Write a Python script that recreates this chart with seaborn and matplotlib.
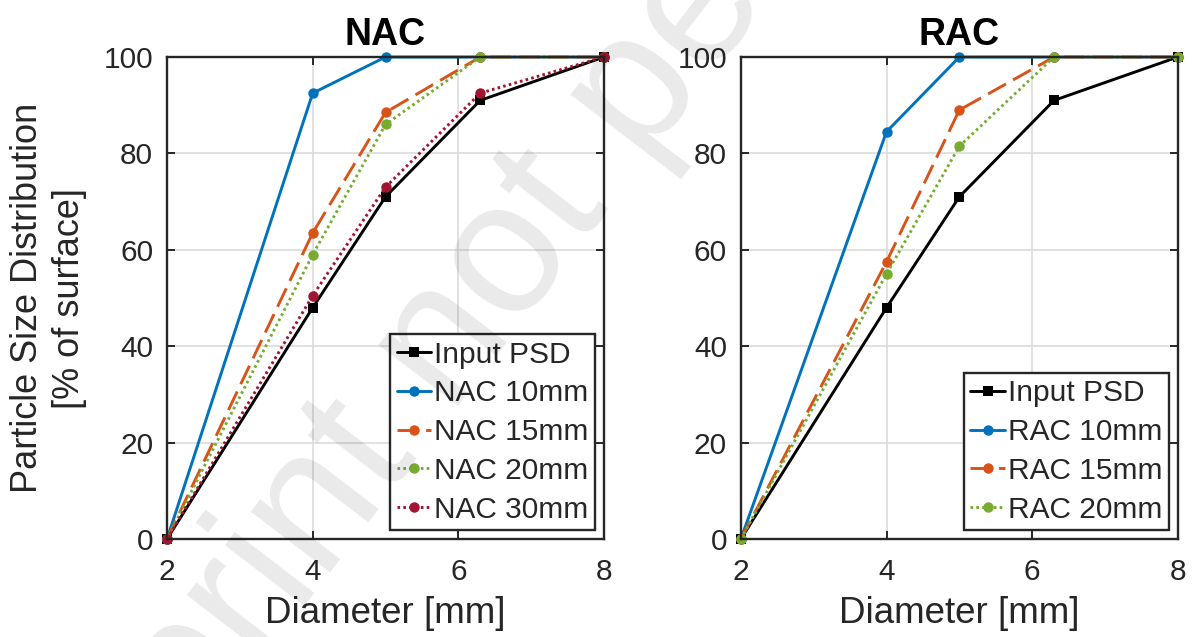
import matplotlib
matplotlib.use("Agg")
import matplotlib.pyplot as plt
import seaborn as sns

# Sieve diameters [mm]
diameter = [2, 4, 5, 6.3, 8]

# Cumulative particle size distribution [% of surface]
input_psd = [0, 48, 71, 91, 100]

nac_10 = [0, 92.5, 100, 100, 100]
nac_15 = [0, 63.5, 88.5, 100, 100]
nac_20 = [0, 59, 86, 100, 100]
nac_30 = [0, 50.5, 73, 92.5, 100]

rac_10 = [0, 84.5, 100, 100, 100]
rac_15 = [0, 57.5, 89, 100, 100]
rac_20 = [0, 55, 81.5, 100, 100]

x_ticks = [2, 4, 6, 8]
y_ticks = [0, 20, 40, 60, 80, 100]

sns.set_theme(style="whitegrid")
plt.rcParams["font.family"] = ["Liberation Sans", "DejaVu Sans"]

BLUE = "#0072BD"
ORANGE = "#D95319"
GREEN = "#77AC30"
RED = "#A2142F"
LW = 2.1
SOLID = "-"
DASHED = (0, (7, 2.8))
DOTTED = (0, (0.9, 1.1))

fig = plt.figure(figsize=(11.93, 6.37), dpi=100)
ax_n = fig.add_axes([0.140, 0.1538, 0.3663, 0.7567])
ax_r = fig.add_axes([0.621, 0.1538, 0.3663, 0.7567])

nac_series = [
    ("Input PSD", input_psd, "black", SOLID, "s", 6.5),
    ("NAC 10mm", nac_10, BLUE, SOLID, "o", 7.5),
    ("NAC 15mm", nac_15, ORANGE, DASHED, "o", 7.5),
    ("NAC 20mm", nac_20, GREEN, DOTTED, "o", 7.5),
    ("NAC 30mm", nac_30, RED, DOTTED, "o", 7.5),
]
rac_series = [
    ("Input PSD", input_psd, "black", SOLID, "s", 6.5),
    ("RAC 10mm", rac_10, BLUE, SOLID, "o", 7.5),
    ("RAC 15mm", rac_15, ORANGE, DASHED, "o", 7.5),
    ("RAC 20mm", rac_20, GREEN, DOTTED, "o", 7.5),
]


def draw_panel(ax, series, title):
    ax.set_facecolor("white")
    for label, values, color, ls, marker, ms in series:
        sns.lineplot(
            x=diameter, y=values, ax=ax, label=label, color=color,
            linestyle=ls, linewidth=LW, marker=marker, markersize=ms,
            markeredgewidth=0, markerfacecolor=color, clip_on=False,
            zorder=3,
        )
    ax.set_xlim(2, 8)
    ax.set_ylim(0, 100)
    ax.set_xticks(x_ticks)
    ax.set_yticks(y_ticks)
    ax.set_xticklabels([str(v) for v in x_ticks])
    ax.set_yticklabels([str(v) for v in y_ticks])
    ax.grid(True, color="#dcdcdc", linewidth=1.2)
    ax.set_axisbelow(True)
    for side in ["left", "right", "top", "bottom"]:
        ax.spines[side].set_visible(True)
        ax.spines[side].set_color("#262626")
        ax.spines[side].set_linewidth(1.7)
        ax.spines[side].set_zorder(4)
    ax.tick_params(
        axis="both", which="major", direction="in", length=6, width=1.4,
        color="#262626", labelsize=21.5, labelcolor="#262626",
        top=True, right=True, bottom=True, left=True,
    )
    ax.tick_params(axis="x", pad=14)
    ax.tick_params(axis="y", pad=10)
    ax.set_title(title, fontsize=27, fontweight="bold", color="black", pad=9)
    ax.set_xlabel("Diameter [mm]", fontsize=26.5, color="#262626", labelpad=7)
    leg = ax.legend(
        loc="lower right", fontsize=21.5, frameon=True, fancybox=False,
        edgecolor="#262626", framealpha=1, borderpad=0.22,
        handlelength=1.15, handletextpad=0.1, labelspacing=0.36,
        borderaxespad=0.3,
    )
    leg.get_frame().set_linewidth(1.7)
    leg.set_zorder(5)


draw_panel(ax_n, nac_series, "NAC")
draw_panel(ax_r, rac_series, "RAC")

ax_n.set_ylabel("Particle Size Distribution\n[% of surface]",
                fontsize=26, color="#262626", labelpad=12, linespacing=1.25)

# Diagonal preprint stamp across the figure, split at the middle gap
W, H = 1193, 637
stamp = dict(fontsize=136, color="black", alpha=0.085, rotation=52.5,
             rotation_mode="anchor", va="baseline", zorder=10)
fig.text(611 / W, 1 - 207 / H, "Preprint not", ha="right", **stamp)
fig.text(643 / W, 1 - 165 / H, "peer reviewed", ha="left", **stamp)

fig.savefig("out.png", dpi=100)
